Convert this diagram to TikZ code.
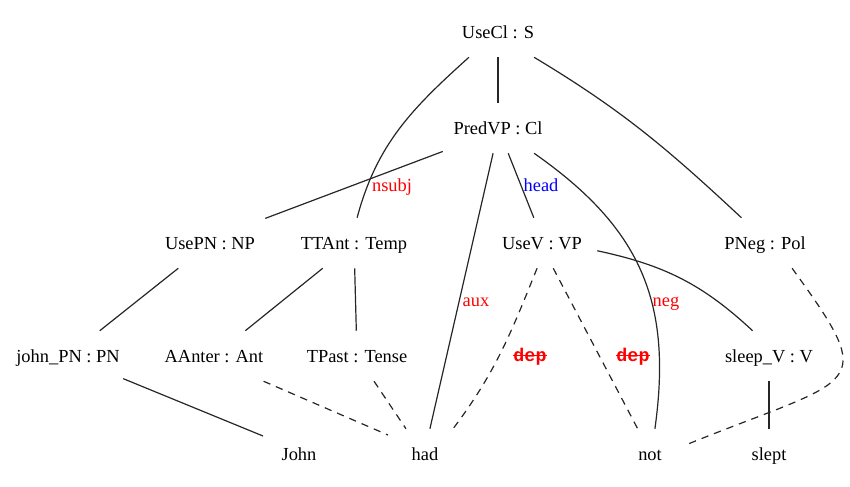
\documentclass[tikz,border=0pt]{standalone}
\usepackage{fontspec}
\setmainfont{Liberation Serif}
\newfontfamily\depmono{Liberation Mono}
\newcommand{\deplabel}{{\depmono\bfseries\rlap{\rule[0.25em]{1.8em}{0.06em}}dep}}

\begin{document}
\begin{tikzpicture}[x=0.75pt,y=-0.75pt,
  treenode/.style={rectangle, inner sep=0pt, minimum width=82.5pt, minimum height=37.5pt,
    text height=9pt, text depth=0pt, font=\fontsize{13.8}{16}\selectfont},
  lbl/.style={inner sep=0pt, text height=9pt, text depth=0pt, font=\fontsize{13.8}{16}\selectfont},
  edge/.style={line width=0.9pt, draw=black!85},
  depedge/.style={edge, dash pattern=on 5.5pt off 4.5pt}]
\useasboundingbox (0,0) rectangle (850,486);

% Text Node
\node[treenode] (useCl) at (498,32) {UseCl : S};
\node[treenode] (predVP) at (498,128) {PredVP : Cl};
% Text Node
\node[treenode] (usePN) at (210,243) {UsePN : NP};
\node[treenode] (ttAnt) at (354,243) {TTAnt : Temp};
\node[treenode] (useV) at (542,243) {UseV : VP};
\node[treenode] (pNeg) at (765,243) {PNeg : Pol};
% Text Node
\node[treenode] (johnPN) at (68,356) {john\_PN : PN};
\node[treenode] (aAnter) at (214,356) {AAnter : Ant};
\node[treenode] (tPast) at (357,356) {TPast : Tense};
\node[treenode] (sleepV) at (769,356) {sleep\_V : V};
% Text Node
\node[treenode] (wJohn) at (299,454) {John};
\node[treenode] (wHad) at (425,454) {had};
\node[treenode] (wNot) at (650,454) {not};
\node[treenode] (wSlept) at (769,454) {slept};

%Straight Lines
\draw[edge] (useCl) -- (predVP);
%Curve Lines
\draw[edge] (useCl.-139) to[out=-138,in=75] (ttAnt.83);
\draw[edge] (useCl.-35) to[out=-31,in=137] (pNeg.133);
%Straight Lines
\draw[edge] (predVP.-157) -- (usePN.24);
\draw[edge] (predVP.-101) -- (wHad.79);
\draw[edge] (predVP.-68) -- (useV.108);
%Curve Lines
\draw[edge] (predVP.-35) to[out=-35,in=82,looseness=1.1] (wNot.79);
\draw[edge] (useV.-8) to[out=-12,in=137] (sleepV.123);
\draw[depedge] (useV.-101) to[out=-112,in=53] (wHad.42);
\draw[depedge] (useV.-66) -- (wNot.116);
\draw[depedge] (pNeg.-43) to[out=-54,in=22,out looseness=1.9,in looseness=2.3] ([shift={(38,-10)}]wNot.center);
%Straight Lines
\draw[edge] (usePN) -- (johnPN);
\draw[edge] (ttAnt) -- (aAnter);
\draw[edge] (ttAnt) -- (tPast);
\draw[edge] (johnPN) -- ([shift={(-36,-18)}]wJohn.center);
\draw[depedge] (aAnter.-27) -- ([shift={(-37,-19)}]wHad.center);
\draw[depedge] (tPast.-56) -- (wHad.127);
\draw[edge] (sleepV) -- (wSlept);

% Text Node
\node[lbl, text=red] (nsubjLbl) at (392,185) {nsubj};
\node[lbl, text=blue] (headLbl) at (541,185) {head};
\node[lbl, text=red] (auxLbl) at (476,300) {aux};
\node[lbl, text=red] (negLbl) at (666,300) {neg};
\node[lbl, text=red] (depHadLbl) at (530,355) {\deplabel};
\node[lbl, text=red] (depNotLbl) at (633,355) {\deplabel};

\end{tikzpicture}
\end{document}
